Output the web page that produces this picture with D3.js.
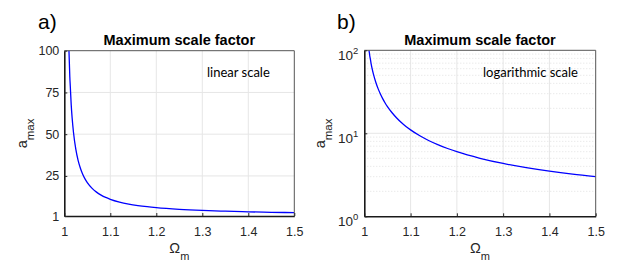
<!DOCTYPE html>
<html><head><meta charset="utf-8">
<script src="https://cdn.jsdelivr.net/npm/d3@7"></script>
<style>body{margin:0;background:#fff}svg{display:block}</style>
</head><body>
<script>
const omega = [1.01,1.011,1.012,1.013,1.015,1.017,1.02,1.025,1.03,1.035,1.04,1.045,1.05,1.06,1.07,1.08,1.09,1.1,1.12,1.14,1.16,1.18,1.2,1.25,1.3,1.35,1.4,1.45,1.5];
const amax  = [101,92.8,84.3,78.9,67.7,59.8,51,41,34.3,29.6,26,23.2,21,17.7,15.3,13.5,12.1,11,9.33,8.14,7.25,6.56,6,5,4.33,3.86,3.5,3.22,3];
const xTicks = [1,1.1,1.2,1.3,1.4,1.5];
const xTickLabels = ["1","1.1","1.2","1.3","1.4","1.5"];
const yTicksLin = [1,25,50,75,100];
const yTicksLog = [1,10,100];
const panelLabels = ["a)","b)"];
const titles = ["Maximum scale factor","Maximum scale factor"];
const notes = ["linear scale","logarithmic scale"];

const W=628,H=270;
const svg=d3.select("body").append("svg").attr("width",W).attr("height",H);
const txt="#262626";
const panels=[
  {x0:64.3,x1:294.3,y0:216,y1:50.7,log:false,lx:38,nx:207,yl:27},
  {x0:364.3,x1:595.7,y0:216.3,y1:50.3,log:true,lx:337,nx:483,yl:325}
];
panels.forEach((p,i)=>{
  const g=svg.append("g");
  const x=d3.scaleLinear().domain([1,1.5]).range([p.x0,p.x1]);
  const y=p.log?d3.scaleLog().domain([1,100]).range([p.y0,p.y1]):d3.scaleLinear().domain([1,100]).range([p.y0,p.y1]);
  const cid="clip"+i;
  g.append("clipPath").attr("id",cid).append("rect").attr("x",p.x0).attr("y",p.y1).attr("width",p.x1-p.x0).attr("height",p.y0-p.y1);
  // grid
  const gg=g.append("g");
  xTicks.slice(1,-1).forEach(t=>gg.append("line").attr("x1",x(t)).attr("x2",x(t)).attr("y1",p.y0).attr("y2",p.y1).attr("stroke","#e6e6e6").attr("stroke-width",1));
  if(!p.log){
    yTicksLin.slice(1,-1).forEach(t=>gg.append("line").attr("x1",p.x0).attr("x2",p.x1).attr("y1",y(t)).attr("y2",y(t)).attr("stroke","#e6e6e6"));
  } else {
    const minor=[];
    [1,10].forEach(d=>{for(let k=2;k<=9;k++)minor.push(d*k);});
    minor.forEach(t=>gg.append("line").attr("x1",p.x0).attr("x2",p.x1).attr("y1",y(t)).attr("y2",y(t)).attr("stroke","#e0e0e0").attr("stroke-dasharray","1,2"));
    gg.append("line").attr("x1",p.x0).attr("x2",p.x1).attr("y1",y(10)).attr("y2",y(10)).attr("stroke","#e6e6e6");
  }
  // curve
  const line=d3.line().x((d,j)=>x(omega[j])).y(d=>y(d)).curve(d3.curveMonotoneX);
  g.append("path").attr("clip-path",`url(#${cid})`).attr("d",line(amax)).attr("fill","none").attr("stroke","#0000ff").attr("stroke-width",1.3);
  // box
  g.append("line").attr("x1",p.x0).attr("x2",p.x1).attr("y1",p.y1).attr("y2",p.y1).attr("stroke","#555").attr("stroke-width",1);
  g.append("line").attr("x1",p.x1).attr("x2",p.x1).attr("y1",p.y1).attr("y2",p.y0).attr("stroke","#555").attr("stroke-width",1);
  // axes
  const ax=g.append("g").attr("transform",`translate(0,${p.y0})`).call(d3.axisBottom(x).tickValues(xTicks).tickFormat((d,j)=>xTickLabels[j]).tickSizeInner(-3).tickSizeOuter(0));
  ax.select(".domain").attr("stroke","#1a1a1a").attr("stroke-width",1.6);
  ax.selectAll(".tick line").attr("stroke","#262626");
  ax.selectAll("text").attr("fill",txt).attr("font-family","Liberation Sans, Arial").attr("font-size","12.5px").attr("y",20).attr("dy",0);
  const yt=p.log?yTicksLog:yTicksLin;
  const ay=g.append("g").attr("transform",`translate(${p.x0},0)`).call(d3.axisLeft(y).tickValues(yt).tickSizeInner(-3).tickSizeOuter(0).tickPadding(5).tickFormat(p.log?"":d3.format("d")));
  ay.select(".domain").attr("stroke","#1a1a1a").attr("stroke-width",1.6);
  ay.selectAll(".tick line").attr("stroke","#262626");
  ay.selectAll("text").attr("fill",txt).attr("font-family","Liberation Sans, Arial").attr("font-size","12.5px");
  if(p.log){
    ay.selectAll(".tick text").each(function(d){
      const t=d3.select(this).text(null).attr("font-size","13.5px").attr("x",-6).attr("dy",0).attr("y",9);
      t.append("tspan").text("10");
      t.append("tspan").attr("dy","-6").attr("font-size","9.5px").text(Math.round(Math.log10(d)));
    });
  }
  // title
  g.append("text").attr("x",(p.x0+p.x1)/2).attr("y",45).attr("text-anchor","middle").attr("font-family","Liberation Sans, Arial").attr("font-weight","bold").attr("font-size","14.5px").attr("fill","#000").text(titles[i]);
  // panel label
  g.append("text").attr("x",p.lx).attr("y",29).attr("font-family","Liberation Sans, Arial").attr("font-size","21px").attr("fill","#000").text(panelLabels[i]);
  // note
  g.append("text").attr("x",p.nx).attr("y",77).attr("font-family","Lato, Open Sans").attr("font-size","13px").attr("fill","#000").text(notes[i]);
  // x label
  const xl=g.append("text").attr("x",(p.x0+p.x1)/2-10).attr("y",253).attr("font-family","Liberation Sans, Arial").attr("font-size","14.5px").attr("fill",txt);
  xl.append("tspan").text("Ω");
  xl.append("tspan").attr("dy","7").attr("font-size","11px").text("m");
  // y label
  const yl=g.append("text").attr("transform",`translate(${p.yl},${(p.y0+p.y1)/2+15}) rotate(-90)`).attr("font-family","Liberation Sans, Arial").attr("font-size","14.5px").attr("fill",txt);
  yl.append("tspan").text("a");
  yl.append("tspan").attr("dy","7").attr("font-size","11.5px").text("max");
});
</script>
</body></html>
